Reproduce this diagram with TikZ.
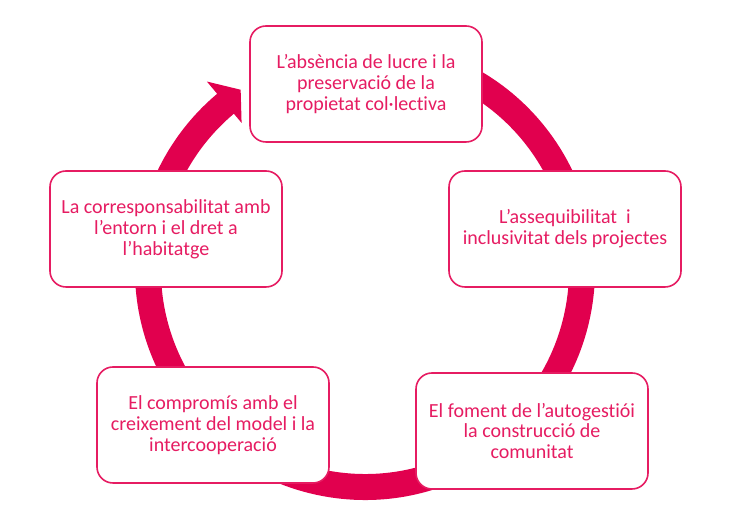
\documentclass[tikz,border=0pt]{standalone}
\usepackage{fontspec}
\setmainfont[Ligatures=NoCommon]{Carlito}
\usetikzlibrary{arrows}
\definecolor{rosa}{RGB}{225,0,78}
\definecolor{rosatext}{RGB}{230,28,98}

\begin{document}
\begin{tikzpicture}[x=0.75pt, y=0.75pt]
\tikzstyle{place}=[rectangle, rounded corners=12pt, draw=rosatext, line width=1.2pt, fill=white, minimum width=174pt, minimum height=87pt, text=rosatext, align=center, font=\fontsize{15}{15.6}\selectfont]

\useasboundingbox (0,0) rectangle (742,523);

% Cycle
\coordinate (centre) at (365,253);
\draw [rosa, line width=19.5pt] ([shift={(80:217)}]centre) arc [start angle=80, end angle=-231, radius=217];
\fill [rosa, shift={(centre)}] (130:192) -- (124.6:219) -- (130:246) -- cycle;

% Boxes
\node at (366,439) [place] (goal_1) {L’absència de lucre i la\\preservació de la\\propietat col·lectiva};
\node at (565,294) [place] (goal_2) {L’assequibilitat\ \ i\\inclusivitat dels projectes};
\node at (532,92) [place] (goal_3) {El foment de l’autogestiói\\la construcció de\\comunitat};
\node at (213,98) [place] (goal_4) {El compromís amb el\\creixement del model i la\\intercooperació};
\node at (166,294) [place] (goal_5) {La corresponsabilitat amb\\l’entorn i el dret a\\l’habitatge};
\end{tikzpicture}
\end{document}
